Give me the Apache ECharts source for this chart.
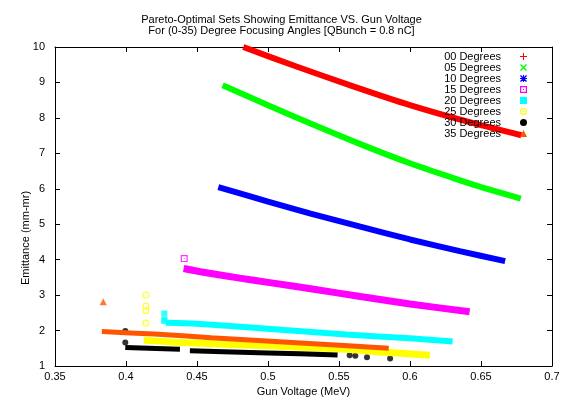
<!DOCTYPE html>
<html><head><meta charset="utf-8">
<script src="https://cdn.jsdelivr.net/npm/echarts@6/dist/echarts.min.js"></script>
<style>html,body{margin:0;padding:0;background:#fff}#c{width:563px;height:408px}</style>
</head><body><div id="c"></div><script>
// ---- data ----
const seriesNames = ['00 Degrees','05 Degrees','10 Degrees','15 Degrees','20 Degrees','25 Degrees','30 Degrees','35 Degrees'];
const xTickLabels = ['0.35','0.4','0.45','0.5','0.55','0.6','0.65','0.7'];
const yTickLabels = ['1','2','3','4','5','6','7','8','9','10'];

// main Pareto bands (gun voltage MeV, emittance mm-mr)
const v00 = [0.4826, 0.52, 0.56, 0.60, 0.64, 0.6784];
const e00 = [10.0, 9.45, 8.89, 8.36, 7.90, 7.51];
const v05 = [0.468, 0.50, 0.53, 0.565, 0.60, 0.63, 0.65, 0.678];
const e05 = [8.92, 8.36, 7.84, 7.26, 6.72, 6.31, 6.05, 5.72];
const v10 = [0.465, 0.50, 0.53, 0.565, 0.60, 0.635, 0.667];
const e10 = [6.05, 5.64, 5.30, 4.93, 4.57, 4.24, 3.96];
const v15 = [0.4406, 0.4524, 0.48, 0.50, 0.53, 0.565, 0.60, 0.642];
const e15 = [3.75, 3.66, 3.48, 3.36, 3.18, 2.96, 2.75, 2.53];
const v20 = [0.428, 0.45, 0.497, 0.555, 0.60, 0.63];
const e20 = [2.22, 2.19, 2.06, 1.89, 1.78, 1.69];
const v25 = [0.4124, 0.44, 0.50, 0.555, 0.585, 0.614];
const e25 = [1.73, 1.66, 1.57, 1.47, 1.38, 1.30];
const v30a = [0.3995, 0.438];
const e30a = [1.52, 1.47];
const v30b = [0.445, 0.50, 0.549];
const e30b = [1.43, 1.37, 1.31];
const v35 = [0.383, 0.42, 0.46, 0.532, 0.585];
const e35 = [1.97, 1.90, 1.80, 1.63, 1.50];

// isolated points
const v15o = [0.441];            const e15o = [4.03];
const v20o = [0.427, 0.427, 0.427]; const e20o = [2.48, 2.31, 2.27];
const v25o = [0.414, 0.414, 0.414, 0.414]; const e25o = [3.0, 2.69, 2.56, 2.21];
const v30o = [0.3995, 0.3995, 0.5575, 0.5615, 0.5697, 0.586];
const e30o = [1.99, 1.66, 1.30, 1.29, 1.25, 1.21];
const v35o = [0.384];            const e35o = [2.81];

// ---- styling ----
const colors = ['#ff0000','#00ff00','#0000ff','#ff00ff','#00ffff','#ffff00','#000000','#ff5500'];
const FONT = 'Liberation Sans';
const icPlus = 'path://M3,0H4V7H3Z M0,3H7V4H0Z';
const icX = 'path://M0,1L1,0L7,6L6,7Z M6,0L7,1L1,7L0,6Z';
const icStar = 'path://M3,0H4V7H3Z M0,3H7V4H0Z M0,1L1,0L7,6L6,7Z M6,0L7,1L1,7L0,6Z';
const icBoxDot = 'path://M0,0H7V7H0Z M1.2,1.2V5.8H5.8V1.2Z M3,3H4V4H3Z';
const icRingDot = 'path://M3.5,0A3.5,3.5 0 1 1 3.5,7A3.5,3.5 0 1 1 3.5,0Z M3.5,1.2A2.3,2.3 0 1 0 3.5,5.8A2.3,2.3 0 1 0 3.5,1.2Z M3,3H4V4H3Z';
const icons = [icPlus, icX, icStar, icBoxDot, 'rect', icRingDot, 'circle', 'triangle'];

function pts(xs, ys) { return xs.map((x, i) => [x, ys[i]]); }
function band(i, xs, ys, w) {
  return { type: 'line', name: seriesNames[i], data: pts(xs, ys), symbol: 'none', showSymbol: false,
    smooth: 0.25, lineStyle: { color: colors[i], width: w, cap: 'butt' }, itemStyle: { color: colors[i] },
    emphasis: { disabled: true }, silent: true };
}
function dots(i, xs, ys, size) {
  return { type: 'scatter', name: seriesNames[i], data: pts(xs, ys), symbol: icons[i], symbolSize: size,
    itemStyle: { color: colors[i] }, emphasis: { disabled: true }, silent: true };
}

const series = [
  band(0, v00, e00, 6),
  band(1, v05, e05, 6),
  band(2, v10, e10, 6),
  band(3, v15, e15, 7), dots(3, v15o, e15o, 7),
  band(4, v20, e20, 6), dots(4, v20o, e20o, 6),
  band(5, v25, e25, 7), dots(5, v25o, e25o, 7),
  band(6, v30a, e30a, 5), band(6, v30b, e30b, 5), dots(6, v30o, e30o, 6),
  band(7, v35, e35, 5), dots(7, v35o, e35o, 7)
];

const axisLine = { show: true, lineStyle: { color: '#000', width: 1 } };
const tick = { show: true, inside: true, length: 5, lineStyle: { color: '#000' } };
const xBase = { type: 'value', min: 0.35, max: 0.7, interval: 0.05, splitLine: { show: false }, axisLine, axisTick: tick };
const yBase = { type: 'value', min: 1, max: 10, interval: 1, splitLine: { show: false }, axisLine, axisTick: tick };

const chart = echarts.init(document.getElementById('c'), null, { renderer: 'canvas' });
chart.setOption({
  animation: false,
  backgroundColor: '#fff',
  textStyle: { fontFamily: FONT },
  title: {
    text: 'Pareto-Optimal Sets Showing Emittance VS. Gun Voltage\nFor (0-35) Degree Focusing Angles [QBunch = 0.8 nC]',
    left: 'center', top: 14, padding: 0,
    textStyle: { fontFamily: FONT, fontSize: 11, fontWeight: 'normal', color: '#000', lineHeight: 11 }
  },
  grid: { left: 55, right: 11, top: 47, bottom: 42, containLabel: false },
  legend: {
    orient: 'vertical', right: 36, top: 51, align: 'right', padding: 0,
    itemWidth: 7, itemHeight: 7, itemGap: 0,
    textStyle: { fontFamily: FONT, fontSize: 11, lineHeight: 11, color: '#000', padding: [0, 14, 0, 0] },
    selectedMode: false,
    data: seriesNames.map((n, i) => ({ name: n, icon: icons[i], itemStyle: { color: colors[i], borderWidth: 0 } }))
  },
  xAxis: [
    Object.assign({}, xBase, {
      position: 'bottom', name: 'Gun Voltage (MeV)', nameLocation: 'middle', nameGap: 8,
      nameTextStyle: { fontFamily: FONT, fontSize: 11, color: '#000', verticalAlign: 'top' },
      axisLabel: { margin: 5, fontFamily: FONT, fontSize: 11, color: '#000',
        formatter: v => xTickLabels[Math.round((v - 0.35) / 0.05)] }
    }),
    Object.assign({}, xBase, { position: 'top', axisLabel: { show: false } })
  ],
  yAxis: [
    Object.assign({}, yBase, {
      position: 'left',
      axisLabel: { margin: 10, fontFamily: FONT, fontSize: 11, color: '#000',
        formatter: v => yTickLabels[Math.round(v - 1)] }
    }),
    Object.assign({}, yBase, { position: 'right', axisLabel: { show: false } })
  ],
  graphic: [{
    type: 'text', x: 26, y: 238, rotation: Math.PI / 2,
    style: { text: 'Emittance (mm-mr)', fontFamily: FONT, fontSize: 11, fill: '#000', align: 'center', verticalAlign: 'middle' }
  }],
  series
});
</script></body></html>
